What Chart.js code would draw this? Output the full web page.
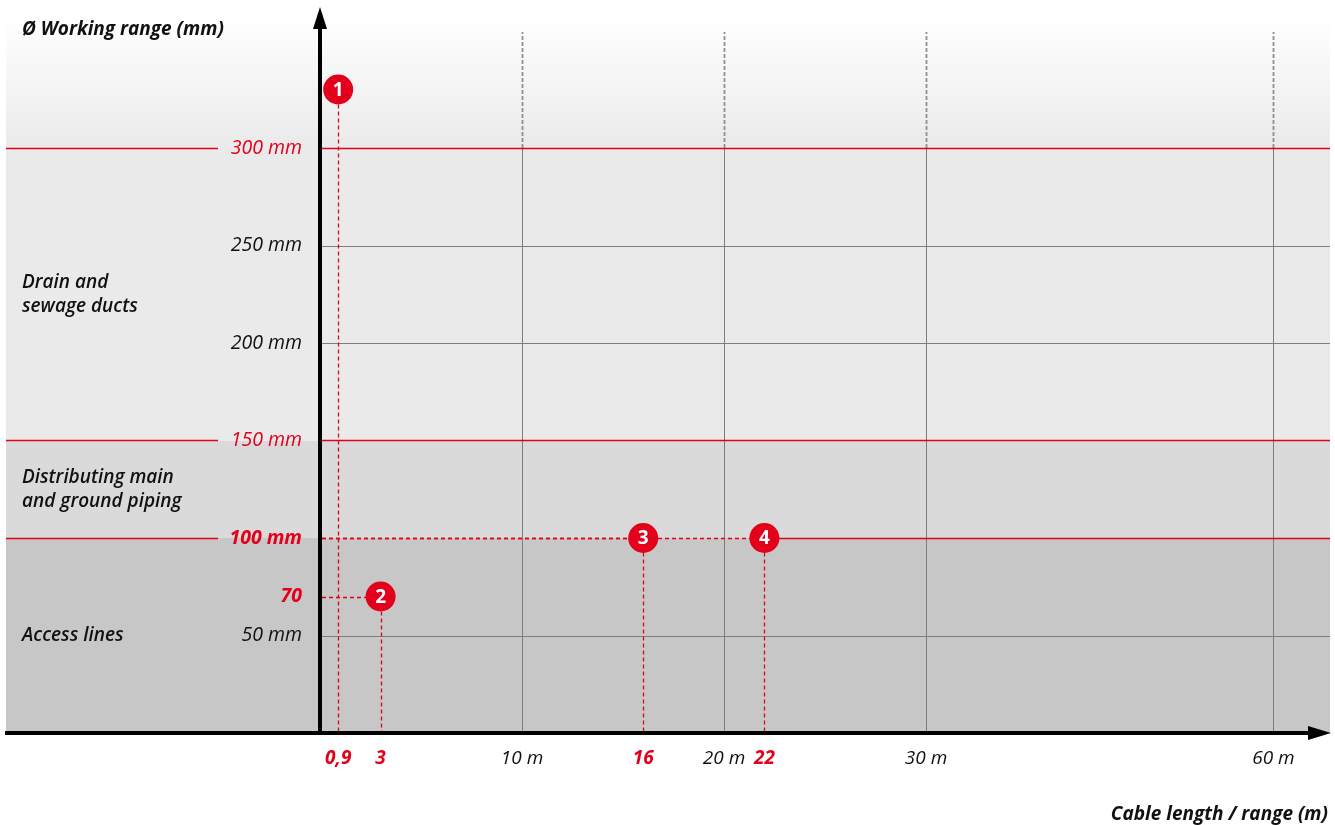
<!DOCTYPE html>
<html>
<head>
<meta charset="utf-8">
<title>Working range vs cable length</title>
<script src="https://cdn.jsdelivr.net/npm/chart.js@4.4.1/dist/chart.umd.min.js"></script>
<style>
  html, body { margin: 0; padding: 0; background: #ffffff; }
  #wrap { width: 1335px; height: 825px; position: relative; }
</style>
</head>
<body>
<div id="wrap"><canvas id="rangeChart" width="1335" height="825"></canvas></div>
<script>
// chart values
const cableTicks = [0.9, 3, 10, 16, 20, 22, 30, 60];
const cableHighlight = [0.9, 3, 16, 22];
const gridLengths = [10, 20, 30, 60];
const rangeTicks = [50, 70, 100, 150, 200, 250, 300];
const rangeRed = [70, 100, 150, 300];
const rangeBold = [70, 100];
const rangeGrey = [50, 200, 250];
const pointNames = ['1', '2', '3', '4'];
const pointLengths = [0.9, 3, 16, 22];
const pointRanges = [330, 70, 100, 100];
const pointHorizontal = [false, true, true, true];
const bandLimits = [0, 100, 150, 300];
const bandNames = [['Access lines'], ['Distributing main', 'and ground piping'], ['Drain and', 'sewage ducts']];
const bandNameRanges = [50, 125, 225];

const RED = '#e2001a';
const FONT = '"Open Sans", "Noto Sans", sans-serif';

// axis is broken after 30 m, the 30-60 m stretch is squeezed
const axisBreak = 30;
const breakScale = 17.2 / 30;
function axisPos(len) {
    return len <= axisBreak ? len : axisBreak + (len - axisBreak) * breakScale;
}

function isCableHighlight(ctx) {
    return ctx && ctx.index !== undefined && cableHighlight.includes(cableTicks[ctx.index]);
}
function tickValue(ctx) {
    return ctx && ctx.tick ? ctx.tick.value : null;
}

const backgroundPlugin = {
    id: 'bands',
    beforeDraw(chart) {
        const { ctx, chartArea, scales: { x, y } } = chart;
        const left = 6, right = chartArea.right;
        const bandColors = ['#c6c7c6', '#d9dad9', '#eaeaea'];

        ctx.save();
        // gradient above the last band
        const yTop = y.getPixelForValue(bandLimits[3]);
        const grad = ctx.createLinearGradient(0, yTop, 0, 18);
        grad.addColorStop(0, '#eaeaea');
        grad.addColorStop(1, '#ffffff');
        ctx.fillStyle = grad;
        ctx.fillRect(left, 18, right - left, yTop - 18);

        for (let i = 0; i < bandColors.length; i++) {
            const y0 = y.getPixelForValue(bandLimits[i]);
            const y1 = y.getPixelForValue(bandLimits[i + 1]);
            ctx.fillStyle = bandColors[i];
            ctx.fillRect(left, y1, right - left, y0 - y1);
        }

        // grey horizontal grid
        ctx.strokeStyle = '#7d7d7d';
        ctx.lineWidth = 1;
        rangeGrey.forEach(v => {
            const py = Math.round(y.getPixelForValue(v)) + 0.5;
            ctx.beginPath();
            ctx.moveTo(chartArea.left, py);
            ctx.lineTo(right, py);
            ctx.stroke();
        });

        // vertical grid, solid in the bands, dashed above
        gridLengths.forEach(len => {
            const px = Math.round(x.getPixelForValue(axisPos(len))) + 0.5;
            ctx.setLineDash([]);
            ctx.strokeStyle = '#7d7d7d';
            ctx.lineWidth = 1;
            ctx.beginPath();
            ctx.moveTo(px, y.getPixelForValue(0));
            ctx.lineTo(px, y.getPixelForValue(bandLimits[3]));
            ctx.stroke();
            ctx.setLineDash([4, 2]);
            ctx.strokeStyle = '#909090';
            ctx.lineWidth = 1.8;
            ctx.beginPath();
            ctx.moveTo(px, y.getPixelForValue(bandLimits[3]));
            ctx.lineTo(px, chartArea.top + 1);
            ctx.stroke();
        });
        ctx.setLineDash([]);

        // red limits, on the left label area and in the plot
        ctx.strokeStyle = RED;
        ctx.lineWidth = 1.4;
        const lastPoint = x.getPixelForValue(axisPos(pointLengths[3]));
        bandLimits.slice(1).forEach(v => {
            const py = Math.round(y.getPixelForValue(v)) + 0.5;
            ctx.beginPath();
            ctx.moveTo(left, py);
            ctx.lineTo(218, py);
            ctx.stroke();
            ctx.beginPath();
            ctx.moveTo(v === pointRanges[3] ? lastPoint : chartArea.left, py);
            ctx.lineTo(right, py);
            ctx.stroke();
        });
        ctx.restore();
    },
    beforeDatasetsDraw(chart) {
        const { ctx, chartArea, scales: { x, y } } = chart;
        const x0 = x.getPixelForValue(0);
        const y0 = y.getPixelForValue(0);
        ctx.save();
        ctx.strokeStyle = RED;
        ctx.lineWidth = 1.3;
        ctx.setLineDash([4, 3]);
        pointLengths.forEach((len, i) => {
            const px = Math.round(x.getPixelForValue(axisPos(len))) + 0.5;
            const py = Math.round(y.getPixelForValue(pointRanges[i])) + 0.5;
            ctx.beginPath();
            ctx.moveTo(px, py);
            ctx.lineTo(px, y0);
            ctx.stroke();
            if (pointHorizontal[i]) {
                ctx.beginPath();
                ctx.moveTo(x0 + 2, py);
                ctx.lineTo(px, py);
                ctx.stroke();
            }
        });
        ctx.setLineDash([]);

        // axes with arrows
        ctx.strokeStyle = '#000';
        ctx.fillStyle = '#000';
        ctx.lineWidth = 4;
        ctx.beginPath();
        ctx.moveTo(x0, y0 + 2);
        ctx.lineTo(x0, 20);
        ctx.moveTo(5, y0);
        ctx.lineTo(chartArea.right - 12, y0);
        ctx.stroke();
        ctx.beginPath();
        ctx.moveTo(x0, 7);
        ctx.lineTo(x0 - 7, 29);
        ctx.lineTo(x0 + 7, 29);
        ctx.closePath();
        ctx.fill();
        ctx.beginPath();
        ctx.moveTo(chartArea.right + 1, y0);
        ctx.lineTo(chartArea.right - 22, y0 - 7);
        ctx.lineTo(chartArea.right - 22, y0 + 7);
        ctx.closePath();
        ctx.fill();
        ctx.restore();
    },
    afterDatasetsDraw(chart) {
        const { ctx } = chart;
        const meta = chart.getDatasetMeta(0);
        ctx.save();
        ctx.fillStyle = '#fff';
        ctx.font = 'bold 19px ' + FONT;
        ctx.textAlign = 'center';
        ctx.textBaseline = 'middle';
        meta.data.forEach((pt, i) => {
            ctx.fillText(pointNames[i], pt.x, pt.y + 1);
        });
        ctx.restore();
    },
    afterDraw(chart) {
        const { ctx, chartArea, scales: { y } } = chart;
        ctx.save();
        ctx.fillStyle = '#111';
        ctx.font = 'italic 600 19px ' + FONT;
        ctx.textBaseline = 'middle';
        bandNames.forEach((lines, i) => {
            const cy = y.getPixelForValue(bandNameRanges[i]);
            lines.forEach((t, k) => {
                ctx.fillText(t, 22, cy + (k - (lines.length - 1) / 2) * 24);
            });
        });
        ctx.font = 'italic bold 19px ' + FONT;
        ctx.fillText('Ø Working range (mm)', 22, 30);
        ctx.textAlign = 'right';
        ctx.fillText('Cable length / range (m)', chartArea.right - 2, 815);
        ctx.restore();
    }
};

new Chart(document.getElementById('rangeChart'), {
    type: 'scatter',
    data: {
        datasets: [{
            data: pointLengths.map((len, i) => ({ x: axisPos(len), y: pointRanges[i] })),
            backgroundColor: RED,
            borderWidth: 0,
            pointRadius: 15,
            pointHoverRadius: 15,
            clip: false
        }]
    },
    options: {
        responsive: false,
        animation: false,
        layout: { autoPadding: false, padding: { left: 0, right: 5, top: 31, bottom: 0 } },
        plugins: {
            legend: { display: false },
            tooltip: { enabled: false }
        },
        scales: {
            x: {
                type: 'linear',
                min: 0,
                max: 50,
                grid: { display: false, drawTicks: false },
                border: { display: false },
                afterFit(scale) {
                    scale.height = 92;
                    scale.paddingLeft = 0;
                    scale.paddingRight = 0;
                },
                afterBuildTicks(scale) {
                    scale.ticks = cableTicks.map(v => ({ value: axisPos(v) }));
                },
                ticks: {
                    padding: 14,
                    maxRotation: 0,
                    autoSkip: false,
                    callback: (value, index) => {
                        const len = cableTicks[index];
                        return cableHighlight.includes(len) ? String(len).replace('.', ',') : len + ' m';
                    },
                    color: ctx => isCableHighlight(ctx) ? RED : '#111',
                    font: ctx => ({
                        family: FONT,
                        size: 19,
                        style: 'italic',
                        weight: isCableHighlight(ctx) ? 'bold' : 'normal'
                    })
                }
            },
            y: {
                type: 'linear',
                min: 0,
                max: 360,
                grid: { display: false, drawTicks: false },
                border: { display: false },
                afterFit(scale) {
                    scale.width = 320;
                    scale.paddingTop = 0;
                    scale.paddingBottom = 0;
                },
                afterBuildTicks(scale) {
                    scale.ticks = rangeTicks.map(v => ({ value: v }));
                },
                ticks: {
                    padding: 18,
                    autoSkip: false,
                    callback: value => value === 70 ? '70' : value + ' mm',
                    color: ctx => rangeRed.includes(tickValue(ctx)) ? RED : '#111',
                    font: ctx => ({
                        family: FONT,
                        size: 19.5,
                        style: 'italic',
                        weight: rangeBold.includes(tickValue(ctx)) ? 'bold' : 'normal'
                    })
                }
            }
        }
    },
    plugins: [backgroundPlugin]
});
</script>
</body>
</html>
